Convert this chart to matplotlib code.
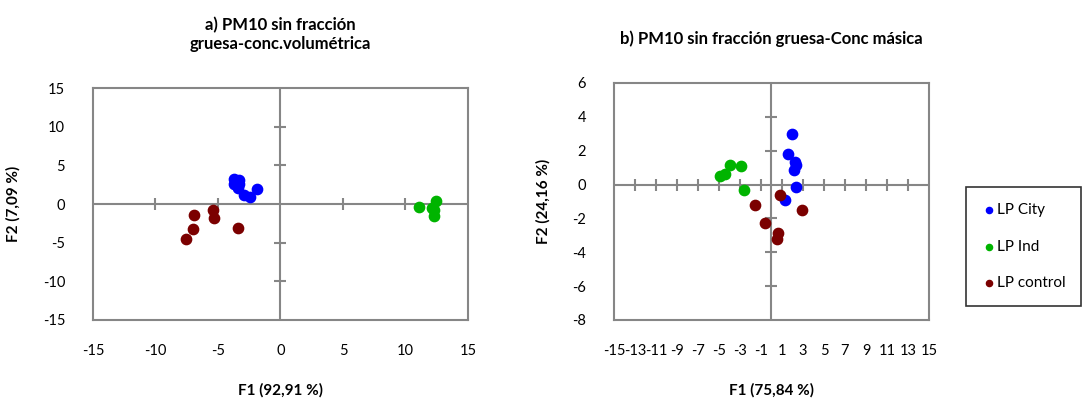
import numpy as np
import matplotlib
matplotlib.use('Agg')
from matplotlib import pyplot as plt

plt.rcParams['font.family'] = ['Lato', 'DejaVu Sans']
plt.rcParams['axes.unicode_minus'] = False

# a) volumetric concentration scores
city_a_x = [-3.74, -3.34, -3.74, -3.34, -3.39, -2.91, -2.46, -1.84]
city_a_y = [3.2, 3.1, 2.6, 2.6, 2.03, 1.17, 0.87, 1.95]
ind_a_x = [11.05, 12.41, 12.15, 12.3, 12.28]
ind_a_y = [-0.39, 0.43, -0.5, -0.75, -1.52]
ctrl_a_x = [-5.42, -5.31, -6.91, -6.99, -7.53, -3.36]
ctrl_a_y = [-0.78, -1.77, -1.43, -3.29, -4.5, -3.07]

# b) mass concentration scores
city_b_x = [1.91, 1.53, 2.26, 2.32, 2.13, 2.35, 1.33]
city_b_y = [2.96, 1.81, 1.32, 1.14, 0.85, -0.14, -0.91]
ind_b_x = [-4.93, -4.39, -3.91, -2.92, -2.64]
ind_b_y = [0.51, 0.63, 1.14, 1.08, -0.32]
ctrl_b_x = [0.79, -1.59, -0.57, 0.64, 0.54, 2.86]
ctrl_b_y = [-0.59, -1.22, -2.27, -2.84, -3.2, -1.48]

xticks_a = [-15, -10, -5, 0, 5, 10, 15]
yticks_a = [-15, -10, -5, 0, 5, 10, 15]
xticks_b = list(range(-15, 16, 2))
yticks_b = list(range(-8, 7, 2))

blue = '#0000ff'
green = '#00b400'
red = '#7b0000'
grey = '#868686'

fig = plt.figure(figsize=(10.84, 4.08), dpi=100)
ax1 = fig.add_axes([0.0858, 0.2157, 0.3459, 0.5686])
ax2 = fig.add_axes([0.5664, 0.2157, 0.2906, 0.5809])


def style(ax, xt, yt):
    ax.set_xlim(xt[0], xt[-1])
    ax.set_ylim(yt[0], yt[-1])
    ax.set_xticks(xt)
    ax.set_yticks(yt)
    ax.tick_params(length=0, labelsize=10.5, pad=20)
    ax.tick_params(axis='x', pad=17)
    for s in ax.spines.values():
        s.set_color(grey)
        s.set_linewidth(1.5)
    ax.axhline(0, color=grey, lw=1.5, zorder=1)
    ax.axvline(0, color=grey, lw=1.5, zorder=1)
    inner_x = [v for v in xt[1:-1] if v != 0]
    inner_y = [v for v in yt[1:-1] if v != 0]
    ax.plot(inner_x, [0] * len(inner_x), ls='none', marker='|', ms=9, mew=1.5, color=grey, zorder=1)
    ax.plot([0] * len(inner_y), inner_y, ls='none', marker='_', ms=9, mew=1.5, color=grey, zorder=1)


style(ax1, xticks_a, yticks_a)
style(ax2, xticks_b, yticks_b)

ax1.scatter(city_a_x, city_a_y, s=55, color=blue, zorder=3, label='LP City')
ax1.scatter(ind_a_x, ind_a_y, s=55, color=green, zorder=3, label='LP Ind')
ax1.scatter(ctrl_a_x, ctrl_a_y, s=55, color=red, zorder=3, label='LP control')

ax2.scatter(city_b_x, city_b_y, s=55, color=blue, zorder=3, label='LP City')
ax2.scatter(ind_b_x, ind_b_y, s=55, color=green, zorder=3, label='LP Ind')
ax2.scatter(ctrl_b_x, ctrl_b_y, s=55, color=red, zorder=3, label='LP control')

ax1.set_title('a) PM10 sin fracción\ngruesa-conc.volumétrica', fontsize=12, fontweight='bold', pad=28)
ax2.set_title('b) PM10 sin fracción gruesa-Conc másica', fontsize=12, fontweight='bold', pad=28)
ax1.set_xlabel('F1 (92,91 %)', fontsize=11, fontweight='bold', labelpad=18)
ax1.set_ylabel('F2 (7,09 %)', fontsize=11, fontweight='bold', labelpad=16)
ax2.set_xlabel('F1 (75,84 %)', fontsize=11, fontweight='bold', labelpad=18)
ax2.set_ylabel('F2 (24,16 %)', fontsize=11, fontweight='bold', labelpad=16)

leg = ax2.legend(loc='center left', bbox_to_anchor=(1.118, 0.31), frameon=True, fancybox=False,
                 edgecolor='black', fontsize=11, markerscale=0.6, handletextpad=0.05,
                 handlelength=0.9, labelspacing=1.5, borderpad=1.05, borderaxespad=0)
leg.get_frame().set_linewidth(1.2)

plt.savefig('out.png', dpi=100)
